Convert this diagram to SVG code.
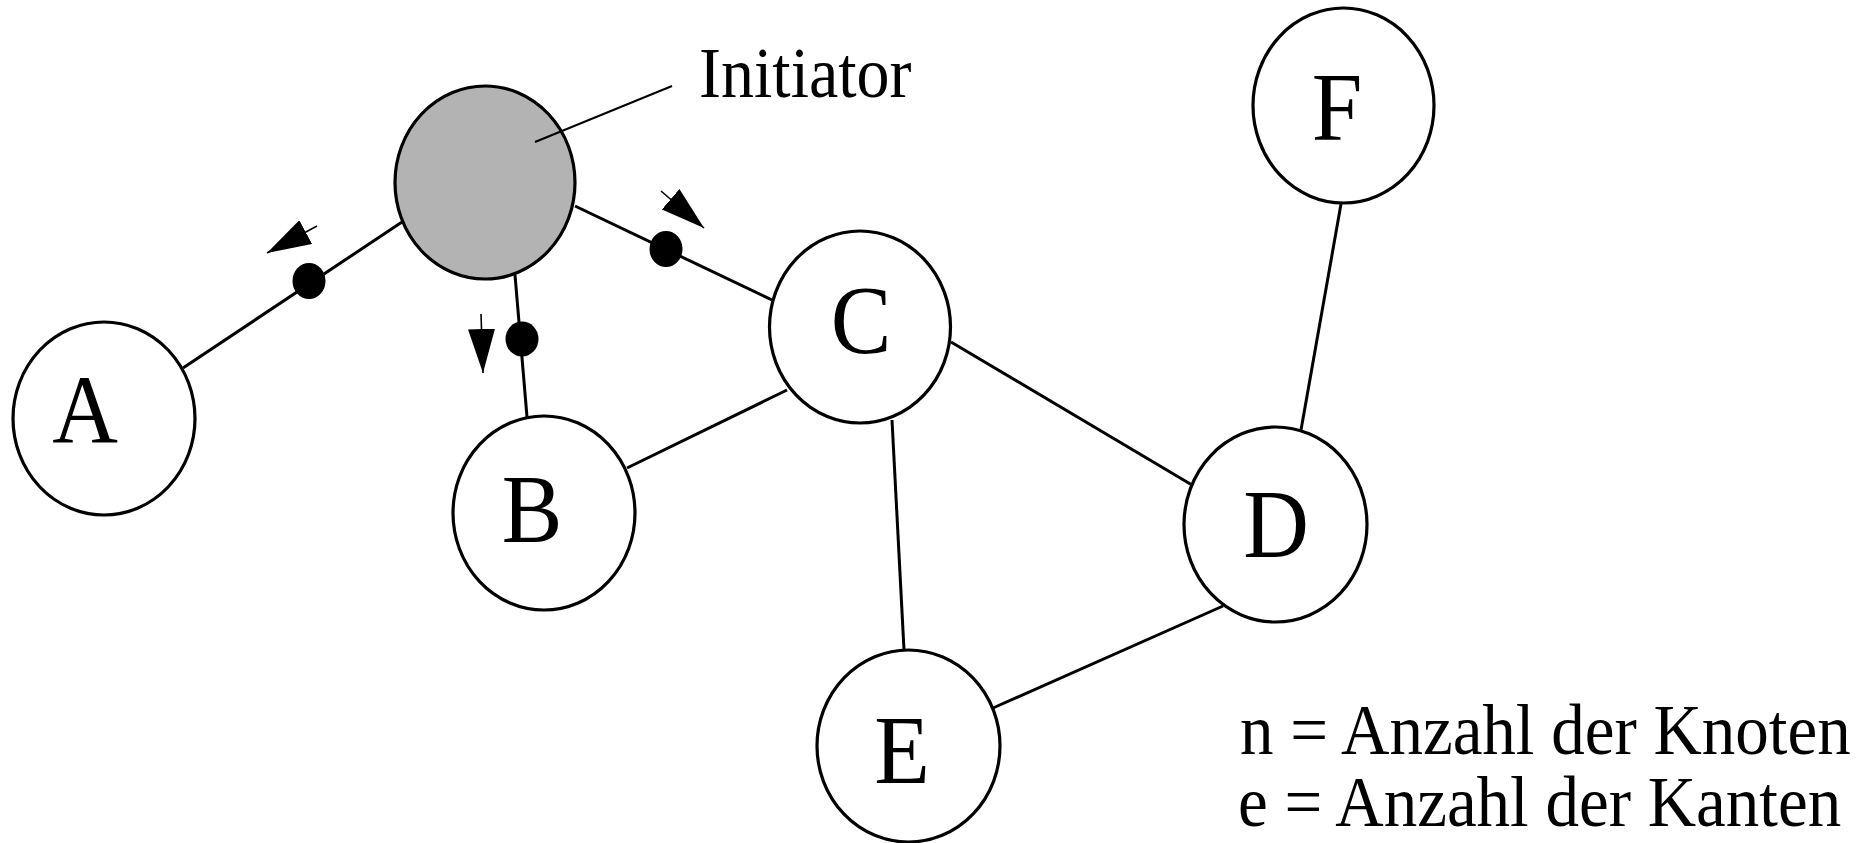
<svg xmlns="http://www.w3.org/2000/svg" width="1873" height="843" viewBox="0 0 1873 843">
  <style>
    .node { fill: #ffffff; stroke: #000000; stroke-width: 3.2; }
    .init { fill: #b3b3b3; stroke: #000000; stroke-width: 3.2; }
    .edge { stroke: #000000; stroke-width: 3; fill: none; stroke-linecap: butt; }
    .thin { stroke: #000000; stroke-width: 2; fill: none; }
    .stub { stroke: #000000; stroke-width: 1.6; fill: none; }
    .dot { fill: #000000; }
    .lbl { font-family: "Liberation Serif", "Times New Roman", serif; font-size: 91px; fill: #000000; text-anchor: middle; }
    .txt { font-family: "Liberation Serif", "Times New Roman", serif; font-size: 66px; fill: #000000; }
    .leg { font-family: "Liberation Serif", "Times New Roman", serif; font-size: 67px; fill: #000000; }
  </style>
  <defs>
    <marker id="ah" viewBox="0 0 44 27" refX="44" refY="13.5" markerWidth="44" markerHeight="27" markerUnits="userSpaceOnUse" orient="auto">
      <path d="M0,0 L44,13.5 L0,27 Z" fill="#000000"/>
    </marker>
  </defs>
  <rect x="0" y="0" width="1873" height="843" fill="#ffffff"/>

  <g id="connectors">
    <line class="edge" x1="183" y1="368" x2="402" y2="222"/>
    <line class="edge" x1="515" y1="275" x2="527" y2="417"/>
    <line class="edge" x1="575" y1="206" x2="772" y2="300"/>
    <line class="edge" x1="627" y1="468" x2="787" y2="390"/>
    <line class="edge" x1="951" y1="342" x2="1192" y2="485"/>
    <line class="edge" x1="892" y1="420" x2="904" y2="650"/>
    <line class="edge" x1="1223" y1="606" x2="993" y2="708"/>
    <line class="edge" x1="1341" y1="204" x2="1301" y2="430"/>
  </g>

  <g id="messages">
    <ellipse class="dot" cx="309" cy="281" rx="16.5" ry="18"/>
    <ellipse class="dot" cx="522" cy="339" rx="16.5" ry="17.5"/>
    <ellipse class="dot" cx="666" cy="249" rx="16.5" ry="18"/>
    <line class="stub" x1="317" y1="226" x2="267" y2="253" marker-end="url(#ah)"/>
    <line class="stub" x1="481" y1="314" x2="483" y2="373" marker-end="url(#ah)"/>
    <line class="stub" x1="661" y1="191" x2="704" y2="228" marker-end="url(#ah)"/>
  </g>

  <g id="node-initiator">
    <ellipse class="init" cx="485" cy="182.5" rx="90" ry="96.5"/>
  </g>
  <g id="node-A">
    <ellipse class="node" cx="104" cy="418.5" rx="91" ry="96.5"/>
    <text class="lbl" transform="translate(85,442) scale(1,1.075)">A</text>
  </g>
  <g id="node-B">
    <ellipse class="node" cx="544" cy="513" rx="91" ry="97"/>
    <text class="lbl" transform="translate(532,542) scale(1,1.075)">B</text>
  </g>
  <g id="node-C">
    <ellipse class="node" cx="860" cy="327" rx="90.5" ry="96"/>
    <text class="lbl" transform="translate(861,353) scale(1,1.075)">C</text>
  </g>
  <g id="node-D">
    <ellipse class="node" cx="1275.5" cy="524.5" rx="91.5" ry="97.5"/>
    <text class="lbl" transform="translate(1276,557) scale(1,1.075)">D</text>
  </g>
  <g id="node-E">
    <ellipse class="node" cx="908.5" cy="746" rx="91.5" ry="96"/>
    <text class="lbl" transform="translate(902,783) scale(1,1.075)">E</text>
  </g>
  <g id="node-F">
    <ellipse class="node" cx="1343.5" cy="105.5" rx="90.5" ry="97.5"/>
    <text class="lbl" transform="translate(1337,140) scale(1,1.075)">F</text>
  </g>

  <g id="annotation">
    <line class="thin" x1="535" y1="142" x2="672" y2="86"/>
    <text class="txt" transform="translate(699,97) scale(1,1.075)">Initiator</text>
  </g>

  <g id="legend">
    <text class="leg" transform="translate(1240,754) scale(1,1.06)">n = Anzahl der Knoten</text>
    <text class="leg" transform="translate(1238,826) scale(1,1.06)">e = Anzahl der Kanten</text>
  </g>
</svg>
